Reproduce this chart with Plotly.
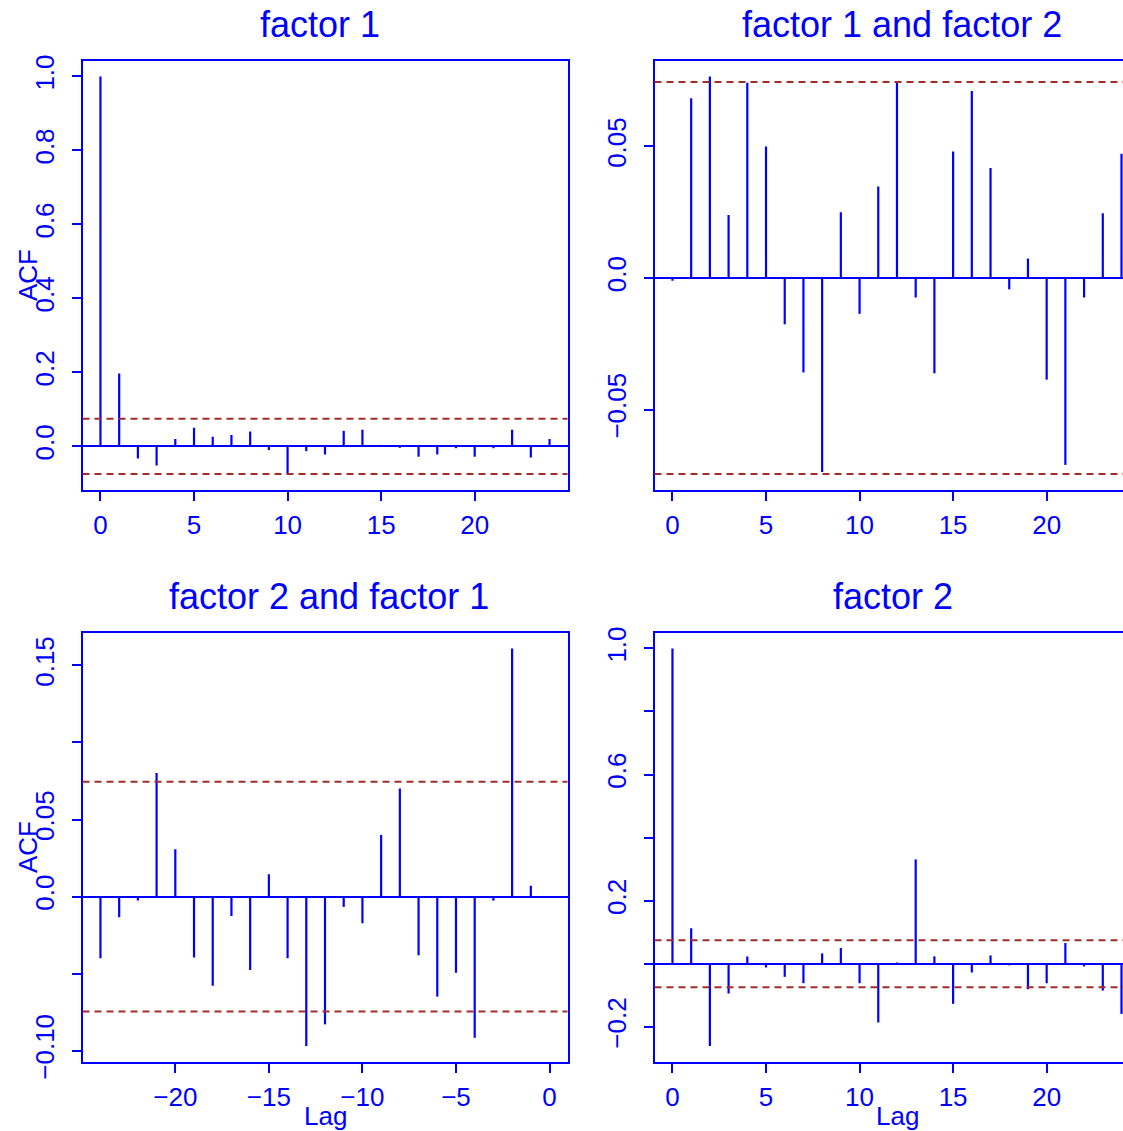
import plotly.graph_objects as go

# ---------------- data ----------------
lags_pos = list(range(0, 25))
lags_neg = list(range(-24, 1))

acf_f1 = [1.0, 0.197, -0.033, -0.052, 0.020, 0.050, 0.026, 0.031, 0.040, -0.010,
          -0.075, -0.013, -0.022, 0.042, 0.045, 0.004, -0.004, -0.028, -0.022, -0.005,
          -0.028, -0.005, 0.045, -0.030, 0.020]
ccf_12 = [-0.001, 0.0683, 0.0766, 0.0239, 0.0742, 0.0500, -0.0176, -0.0359, -0.0737, 0.0250,
          -0.0136, 0.0348, 0.0746, -0.0074, -0.0362, 0.0481, 0.0711, 0.0418, -0.0043, 0.0074,
          -0.0386, -0.0710, -0.0074, 0.0246, 0.0472]
ccf_21 = [-0.0400, -0.0134, -0.0026, 0.0801, 0.0307, -0.0396, -0.0578, -0.0126, -0.0476, 0.0145,
          -0.0400, -0.0970, -0.0829, -0.0067, -0.0173, 0.0400, 0.0701, -0.0381, -0.0649, -0.0494,
          -0.0916, -0.0026, 0.1610, 0.0071, -0.001]
acf_f2 = [1.0, 0.1125, -0.261, -0.0945, 0.0234, -0.0117, -0.0414, -0.0616, 0.0329, 0.0499,
          -0.0616, -0.186, 0.004, 0.331, 0.0234, -0.127, -0.0276, 0.0265, -0.005, -0.0807,
          -0.0616, 0.0658, -0.0085, -0.0849, -0.159]
ci = 0.0745

titles = ["factor 1", "factor 1 and factor 2", "factor 2 and factor 1", "factor 2"]

xtick_pos = [0, 5, 10, 15, 20]
xtick_pos_text = ["0", "5", "10", "15", "20"]
xtick_neg = [-20, -15, -10, -5, 0]
xtick_neg_text = ["\u221220", "\u221215", "\u221210", "\u22125", "0"]

ytick1 = [0.0, 0.2, 0.4, 0.6, 0.8, 1.0]
ytick1_text = ["0.0", "0.2", "0.4", "0.6", "0.8", "1.0"]
ytick2 = [-0.05, 0.0, 0.05]
ytick2_text = ["\u22120.05", "0.0", "0.05"]
ytick3 = [-0.10, -0.05, 0.0, 0.05, 0.10, 0.15]
ytick3_text = ["\u22120.10", "", "0.0", "0.05", "", "0.15"]
ytick4 = [-0.2, 0.0, 0.2, 0.4, 0.6, 0.8, 1.0]
ytick4_text = ["\u22120.2", "", "0.2", "", "0.6", "", "1.0"]

# ---------------- layout helpers ----------------
W, H = 1123, 1131
BLUE = "#0000FF"
CIRED = "#A52A2A"
FONT = "Liberation Sans, Arial, Helvetica, sans-serif"
TICKSIZE = 26


def px_x(p):
    return p / W


def px_y(p):
    return 1 - p / H


col_dom = [[px_x(82.5), px_x(567.5)], [px_x(654.5), 1.0]]
row_dom = [[px_y(490), px_y(60.5)], [px_y(1062), px_y(632.5)]]

panels = [
    dict(lags=lags_pos, vals=acf_f1, col=0, row=0, xr=[-0.96, 24.96],
         xt=xtick_pos, xtt=xtick_pos_text, yt=ytick1, ytt=ytick1_text),
    dict(lags=lags_pos, vals=ccf_12, col=1, row=0, xr=[-0.96, 24.08],
         xt=xtick_pos, xtt=xtick_pos_text, yt=ytick2, ytt=ytick2_text),
    dict(lags=lags_neg, vals=ccf_21, col=0, row=1, xr=[-24.96, 0.96],
         xt=xtick_neg, xtt=xtick_neg_text, yt=ytick3, ytt=ytick3_text),
    dict(lags=lags_pos, vals=acf_f2, col=1, row=1, xr=[-0.96, 24.08],
         xt=xtick_pos, xtt=xtick_pos_text, yt=ytick4, ytt=ytick4_text),
]
title_x = [320, 902, 329, 893]

fig = go.Figure()
shapes = []
annotations = []

for i, p in enumerate(panels):
    k = "" if i == 0 else str(i + 1)
    xs, ys = [], []
    for lag, v in zip(p["lags"], p["vals"]):
        xs += [lag, lag, None]
        ys += [0, v, None]
    fig.add_trace(go.Scatter(x=xs, y=ys, mode="lines",
                             line=dict(color=BLUE, width=2.2),
                             xaxis="x" + k, yaxis="y" + k,
                             showlegend=False, hoverinfo="skip"))
    lo = min(min(p["vals"]), -ci)
    hi = max(max(p["vals"]), ci)
    pad = 0.04 * (hi - lo)
    full_box = p["col"] == 0
    fig.update_layout(**{
        "xaxis" + k: dict(domain=col_dom[p["col"]], range=p["xr"], anchor="y" + k,
                          tickmode="array", tickvals=p["xt"], ticktext=p["xtt"],
                          ticks="outside", ticklen=9, tickwidth=2, tickcolor=BLUE,
                          ticklabelstandoff=2,
                          showline=True, linecolor=BLUE, linewidth=2, mirror=True,
                          showgrid=False, zeroline=False, automargin=False,
                          tickfont=dict(family=FONT, size=TICKSIZE, color=BLUE)),
        "yaxis" + k: dict(domain=row_dom[p["row"]], range=[lo - pad, hi + pad], anchor="x" + k,
                          tickmode="array", tickvals=p["yt"], ticktext=p["ytt"],
                          ticks="outside", ticklen=9, tickwidth=2, tickcolor=BLUE,
                          tickangle=-90, ticklabelstandoff=7,
                          showline=True, linecolor=BLUE, linewidth=2, mirror=full_box,
                          showgrid=False, zeroline=True, zerolinecolor=BLUE, zerolinewidth=2,
                          automargin=False,
                          tickfont=dict(family=FONT, size=TICKSIZE, color=BLUE)),
    })
    for sgn in (1, -1):
        shapes.append(dict(type="line", xref="x" + k + " domain", yref="y" + k,
                           x0=0, x1=1, y0=sgn * ci, y1=sgn * ci,
                           line=dict(color=CIRED, width=2, dash="7px,5px")))
    top_px = 60.5 if p["row"] == 0 else 632.5
    annotations.append(dict(text=titles[i], xref="paper", yref="paper",
                            x=px_x(title_x[i]), y=px_y(top_px - 14),
                            xanchor="center", yanchor="bottom", showarrow=False,
                            font=dict(family=FONT, size=36, color=BLUE)))

# axis labels
for lab_y in (275, 847):
    annotations.append(dict(text="ACF", xref="paper", yref="paper",
                            x=px_x(28), y=px_y(lab_y), textangle=-90,
                            xanchor="center", yanchor="middle", showarrow=False,
                            font=dict(family=FONT, size=TICKSIZE, color=BLUE)))
for lab_x in (325, 897):
    annotations.append(dict(text="Lag", xref="paper", yref="paper",
                            x=px_x(lab_x), y=px_y(1116), textangle=0,
                            xanchor="center", yanchor="middle", showarrow=False,
                            font=dict(family=FONT, size=TICKSIZE, color=BLUE)))

fig.update_layout(width=W, height=H, autosize=False,
                  margin=dict(l=0, r=0, t=0, b=0, pad=0),
                  paper_bgcolor="white", plot_bgcolor="white",
                  shapes=shapes, annotations=annotations,
                  font=dict(family=FONT, color=BLUE))

fig.write_html("out.html")
